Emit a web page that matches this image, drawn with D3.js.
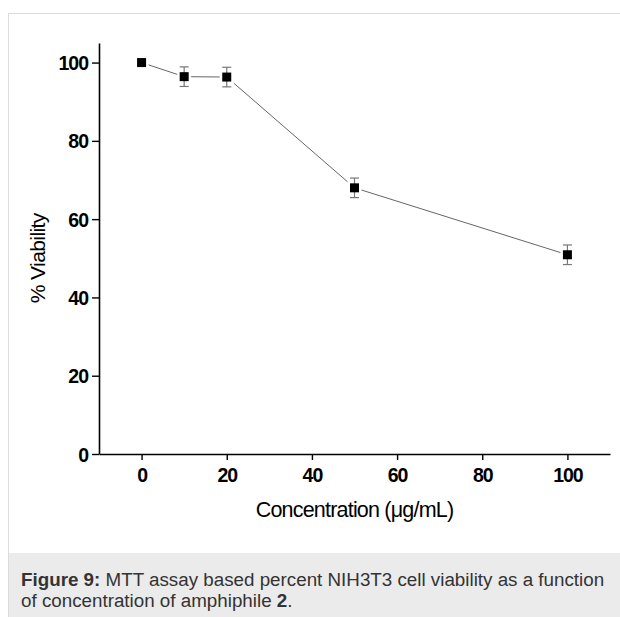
<!DOCTYPE html>
<html><head><meta charset="utf-8">
<script src="https://cdn.jsdelivr.net/npm/d3@7"></script>
<style>
body{margin:0;background:#fff;font-family:Arial,"Liberation Sans",sans-serif;}
</style></head>
<body>
<svg id="c" width="620" height="617"></svg>
<script>
const concentrations = [0, 10, 20, 50, 100];
const viability = [100, 96.4, 96.3, 68.0, 50.9];
const errors = [0, 2.5, 2.5, 2.5, 2.5];
const xTicks = [0, 20, 40, 60, 80, 100];
const yTicks = [0, 20, 40, 60, 80, 100];
const xTitle = "Concentration (\u03bcg/mL)";
const yTitle = "% Viability";

const svg = d3.select("#c");
svg.append("rect").attr("x", 8.5).attr("y", 13.5).attr("width", 640).attr("height", 620)
  .attr("fill", "#fff").attr("stroke", "#dcdcdc");
svg.append("rect").attr("x", 9).attr("y", 553).attr("width", 620).attr("height", 70).attr("fill", "#ebebeb");

const x = d3.scaleLinear().domain([-10, 110]).range([99, 610]);
const y = d3.scaleLinear().domain([0, 105]).range([454, 43]);

const xAxis = svg.append("g").attr("transform", `translate(0,${y(0)})`)
  .call(d3.axisBottom(x).tickValues(xTicks).tickSize(6).tickSizeOuter(0).tickPadding(8));
const yAxis = svg.append("g").attr("transform", `translate(${x(-10)},0)`)
  .call(d3.axisLeft(y).tickValues(yTicks).tickSize(7).tickSizeOuter(0).tickPadding(4));
[xAxis, yAxis].forEach(a => {
  a.select(".domain").attr("stroke", "#000").attr("stroke-width", 1.6);
  a.selectAll(".tick line").attr("stroke", "#000").attr("stroke-width", 1.4);
  a.selectAll(".tick text").attr("fill", "#000").style("font-family", "Arial, 'Liberation Sans', sans-serif")
    .style("font-size", "19.5px").style("font-weight", "bold").style("letter-spacing", "-1px");
});
yAxis.selectAll(".tick text").attr("dy", "0.36em");

const pts = concentrations.map((c, i) => ({x: c, y: viability[i], e: errors[i]}));

svg.append("path").datum(pts)
  .attr("d", d3.line().x(d => x(d.x)).y(d => y(d.y)))
  .attr("fill", "none").attr("stroke", "#666").attr("stroke-width", 1);

svg.selectAll(".gap").data(pts).join("rect")
  .attr("x", d => x(d.x) - 7).attr("y", d => y(d.y) - 7).attr("width", 14).attr("height", 14).attr("fill", "#fff");

const eb = svg.append("g").attr("stroke", "#777").attr("stroke-width", 1.2);
pts.filter(d => d.e > 0).forEach(d => {
  eb.append("line").attr("x1", x(d.x)).attr("x2", x(d.x)).attr("y1", y(d.y - d.e)).attr("y2", y(d.y + d.e));
  [d.y - d.e, d.y + d.e].forEach(v => eb.append("line").attr("x1", x(d.x) - 4.5).attr("x2", x(d.x) + 4.5).attr("y1", y(v)).attr("y2", y(v)));
});

svg.selectAll(".pt").data(pts).join("rect")
  .attr("x", d => x(d.x) - 4.5).attr("y", d => y(d.y) - 4.5).attr("width", 9).attr("height", 9).attr("fill", "#000");

svg.append("text").attr("x", (x(0) + x(100)) / 2).attr("y", 517).attr("text-anchor", "middle")
  .style("font-size", "21.5px").style("letter-spacing", "-0.8px").attr("fill", "#000").text(xTitle);
svg.append("text").attr("transform", `translate(45,${y(50)}) rotate(-90)`).attr("text-anchor", "middle")
  .style("font-size", "21px").style("letter-spacing", "-0.6px").attr("fill", "#000").text(yTitle);

const cap = svg.append("text").attr("x", 21).attr("y", 586).style("font-size", "18.8px").attr("fill", "#333");
cap.append("tspan").style("font-weight", "bold").text("Figure 9:");
cap.append("tspan").text(" MTT assay based percent NIH3T3 cell viability as a function");
const cap2 = svg.append("text").attr("x", 21).attr("y", 607).style("font-size", "18.8px").attr("fill", "#333");
cap2.append("tspan").text("of concentration of amphiphile ");
cap2.append("tspan").style("font-weight", "bold").text("2");
cap2.append("tspan").text(".");
</script>
</body></html>
